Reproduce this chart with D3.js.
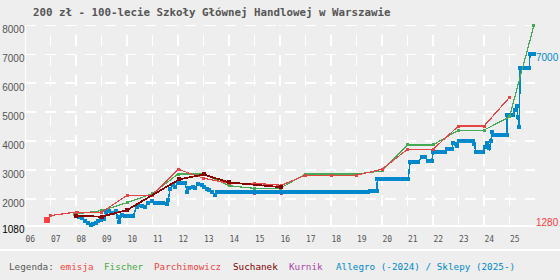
<!DOCTYPE html>
<html>
<head>
<meta charset="utf-8">
<script src="https://cdn.jsdelivr.net/npm/d3@7"></script>
<style>
  html, body { margin: 0; padding: 0; background: #eeeeee; }
  svg { display: block; }
</style>
</head>
<body>
<div id="chart"></div>
<script>
// values, [year, price in zł]
const emisja = [[2006.85, 1280]];
const fischer = [
  [2007.95, 1480], [2009.0, 1600], [2010.0, 1875], [2011.0, 2185], [2012.0, 2865],
  [2013.0, 2865], [2014.0, 2460], [2015.0, 2370], [2016.0, 2370], [2017.0, 2865],
  [2018.0, 2865], [2019.0, 2865], [2020.0, 2970], [2021.0, 3870], [2022.0, 3870],
  [2023.0, 4380], [2024.0, 4380], [2025.0, 4840], [2025.96, 8000]
];
const parchimowicz = [
  [2007.0, 1430], [2008.0, 1550], [2009.0, 1545], [2010.0, 2130], [2011.0, 2130],
  [2012.0, 3030], [2013.0, 2720], [2014.0, 2545], [2015.0, 2545], [2016.05, 2475],
  [2017.0, 2825], [2018.0, 2825], [2019.0, 2825], [2020.0, 3030], [2021.0, 3720],
  [2022.0, 3720], [2023.0, 4520], [2024.0, 4520], [2025.0, 5510]
];
const suchanek = [
  [2008.0, 1425], [2009.0, 1390], [2010.0, 1620], [2012.05, 2680], [2013.0, 2850],
  [2014.0, 2575], [2016.05, 2410]
];
const kurnik = [[2015.0, 2190], [2016.05, 2190]];
const allegro = [
  [2008.13, 1391], [2008.25, 1335], [2008.35, 1253], [2008.46, 1184], [2008.58, 1115],
  [2008.68, 1139], [2008.77, 1184], [2008.87, 1242], [2008.98, 1287], [2009.10, 1311],
  [2009.18, 1553], [2009.29, 1577], [2009.37, 1508], [2009.46, 1529], [2009.56, 1588],
  [2009.64, 1391], [2009.70, 1218], [2009.79, 1449], [2009.92, 1425], [2010.25, 1425],
  [2010.38, 1736], [2010.44, 1795], [2010.58, 1760], [2010.71, 1736], [2010.84, 1853],
  [2010.97, 1943], [2011.10, 1875], [2011.23, 1853], [2011.42, 1853], [2011.56, 1829],
  [2011.62, 1967], [2011.69, 2337], [2011.79, 2485], [2011.88, 2427], [2012.01, 2544],
  [2012.27, 2544], [2012.36, 2254], [2012.44, 2371], [2012.58, 2406], [2012.67, 2371],
  [2012.80, 2520], [2012.93, 2485], [2013.02, 2427], [2013.13, 2337], [2013.23, 2313],
  [2013.32, 2254], [2013.45, 2140], [2013.52, 2230], [2019.46, 2230], [2019.53, 2280],
  [2019.79, 2280], [2019.82, 2680], [2021.03, 2680], [2021.10, 3290], [2021.42, 3290],
  [2021.56, 3440], [2021.69, 3440], [2021.79, 3320], [2021.95, 3320], [2022.01, 3635],
  [2022.47, 3635], [2022.54, 3720], [2022.73, 3720], [2022.80, 3945], [2022.89, 3890],
  [2022.95, 3830], [2023.03, 4015], [2023.58, 4015], [2023.62, 3890], [2023.69, 3615],
  [2023.97, 3615], [2024.04, 3790], [2024.13, 3925], [2024.21, 3750], [2024.27, 4015],
  [2024.33, 4330], [2024.36, 4212], [2024.89, 4212], [2024.91, 4900], [2025.12, 4900],
  [2025.22, 5075], [2025.28, 5210], [2025.33, 4845], [2025.38, 4480], [2025.42, 6515],
  [2025.78, 6515], [2025.80, 7000], [2025.96, 7000]
];

const yTicks = [1080, 2000, 3000, 4000, 5000, 6000, 7000, 8000];
const xTicks = d3.range(2006, 2026);
const title = "200 zł - 100-lecie Szkoły Głównej Handlowej w Warszawie";
const legendItems = [
  { label: "Legenda:", color: "#555555" },
  { label: "emisja", color: "#ff4040" },
  { label: "Fischer", color: "#44aa44" },
  { label: "Parchimowicz", color: "#ee4444" },
  { label: "Suchanek", color: "#880000" },
  { label: "Kurnik", color: "#aa44aa" },
  { label: "Allegro (-2024) / Sklepy (2025-)", color: "#0088cc" }
];
const legendX = [9, 60, 104, 154, 233, 289, 336];

const w = 560, h = 280;
const margin = { left: 25, right: 25, top: 25.3, bottom: 54.3 };

const svg = d3.select("#chart").append("svg")
  .attr("width", w)
  .attr("height", h)
  .attr("shape-rendering", "crispEdges");

svg.append("rect").attr("width", w).attr("height", h).attr("fill", "#eeeeee");

const x = d3.scaleLinear().domain([2006, 2026]).range([margin.left, w - margin.right]);
const y = d3.scaleLinear().domain([1080, 8000]).range([h - margin.bottom, margin.top]);

// grid
svg.append("g")
  .selectAll("line")
  .data(yTicks.slice(1))
  .join("line")
  .attr("x1", margin.left).attr("x2", w - margin.right)
  .attr("y1", d => y(d)).attr("y2", d => y(d))
  .attr("stroke", "#ffffff").attr("stroke-width", 1.5)
  .attr("stroke-dasharray", "11,9");

svg.append("g")
  .selectAll("line")
  .data(xTicks.slice(1))
  .join("line")
  .attr("x1", d => x(d)).attr("x2", d => x(d))
  .attr("y1", margin.top).attr("y2", y(1080))
  .attr("stroke", "#ffffff").attr("stroke-width", 1.5)
  .attr("stroke-dasharray", "11,9").attr("stroke-dashoffset", 10);

// axes
const yAxis = svg.append("g")
  .attr("transform", `translate(${margin.left},0)`)
  .call(d3.axisLeft(y).tickValues(yTicks).tickSize(0).tickPadding(0.5)
    .tickFormat(d3.format("d")));
yAxis.select(".domain").attr("stroke", "#ffffff").attr("stroke-width", 1.5);
yAxis.selectAll("text")
  .attr("font-family", "'Liberation Sans', Arial, sans-serif")
  .attr("font-size", 10)
  .attr("dy", "0.7em")
  .attr("fill", d => d === 1080 ? "#000000" : "#555555");

const xAxis = svg.append("g")
  .attr("transform", `translate(0,${y(1080)})`)
  .call(d3.axisBottom(x).tickValues(xTicks).tickSize(0).tickPadding(11)
    .tickFormat(d => String(d).slice(2)));
xAxis.select(".domain").attr("stroke", "#ffffff").attr("stroke-width", 1.5);
xAxis.selectAll("text")
  .attr("font-family", "'DejaVu Sans Mono', monospace")
  .attr("font-size", 8)
  .attr("text-anchor", "start")
  .attr("fill", "#555555");

const line = d3.line().x(d => x(d[0])).y(d => y(d[1]));

const drawSquares = (data, color, size) => {
  svg.append("g")
    .selectAll("rect")
    .data(data)
    .join("rect")
    .attr("x", d => x(d[0]) - size / 2)
    .attr("y", d => y(d[1]) - size / 2)
    .attr("width", size).attr("height", size)
    .attr("fill", color);
};

const drawSeries = (data, color, lw, size) => {
  svg.append("path")
    .datum(data)
    .attr("d", line)
    .attr("fill", "none")
    .attr("stroke", color)
    .attr("stroke-width", lw);
  drawSquares(data, color, size);
};

drawSquares(kurnik, "#aa44aa", 3);

// allegro: thin connecting line, flat runs are thick bands
svg.append("path")
  .datum(allegro)
  .attr("d", line)
  .attr("fill", "none")
  .attr("stroke", "#0088cc")
  .attr("stroke-width", 1.5);
const runs = d3.pairs(allegro).filter(([a, b]) => a[1] === b[1]);
svg.append("g")
  .selectAll("line")
  .data(runs)
  .join("line")
  .attr("x1", d => x(d[0][0])).attr("x2", d => x(d[1][0]))
  .attr("y1", d => y(d[0][1])).attr("y2", d => y(d[1][1]))
  .attr("stroke", "#0088cc").attr("stroke-width", 4);
drawSquares(allegro, "#0088cc", 4);

drawSeries(fischer, "#44aa55", 1.2, 3);
drawSeries(parchimowicz, "#e64545", 1.2, 3);
drawSeries(suchanek, "#880000", 1.8, 4);
drawSquares(emisja, "#ff4040", 6);

// last values at the right edge
const endLabels = [
  { v: allegro[allegro.length - 1][1], color: "#0088cc" },
  { v: emisja[emisja.length - 1][1], color: "#ff4040" }
];
svg.append("g")
  .selectAll("text")
  .data(endLabels)
  .join("text")
  .attr("x", w - margin.right + 1)
  .attr("y", d => y(d.v) + 6.5)
  .attr("font-family", "'Liberation Sans', Arial, sans-serif")
  .attr("font-size", 10)
  .attr("fill", d => d.color)
  .text(d => d.v);

// title
svg.append("text")
  .attr("x", 33).attr("y", 16)
  .attr("font-family", "'DejaVu Sans Mono', monospace")
  .attr("font-weight", "bold")
  .attr("font-size", 10.8)
  .attr("fill", "#555555")
  .text(title);

// legend strip
svg.append("rect")
  .attr("x", 0).attr("y", 249).attr("width", w).attr("height", 2)
  .attr("fill", "#ffffff");
svg.append("g")
  .selectAll("text")
  .data(legendItems)
  .join("text")
  .attr("x", (d, i) => legendX[i])
  .attr("y", 270)
  .attr("font-family", "'DejaVu Sans Mono', monospace")
  .attr("font-size", 9.3)
  .attr("fill", d => d.color)
  .text(d => d.label);
</script>
</body>
</html>
